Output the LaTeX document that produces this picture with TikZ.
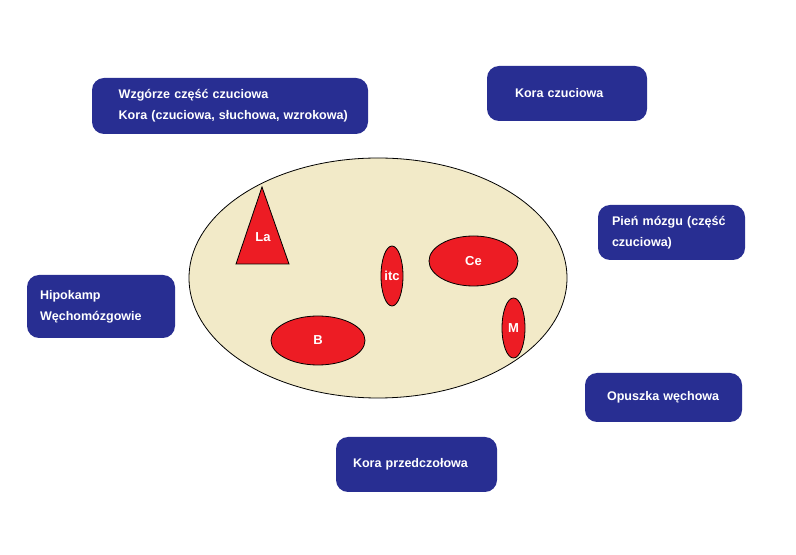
\documentclass[tikz,border=0pt]{standalone}
\usepackage{fontspec}
\setmainfont{Liberation Sans}
\usepackage{xcolor}
\usetikzlibrary{shapes.geometric}

\definecolor{boxblue}{RGB}{40,46,146}
\definecolor{nucred}{RGB}{237,28,36}
\definecolor{amyg}{RGB}{242,234,200}

\begin{document}
\begin{tikzpicture}[x=0.75pt, y=-0.75pt,
    area/.style={fill=boxblue, text=white, rounded corners=9pt,
                 align=left, inner ysep=0pt,
                 font=\fontsize{9.4}{15.75}\selectfont\bfseries},
    nucleus/.style={ellipse, fill=nucred, draw=black, line width=0.6pt,
                    inner sep=0pt, text=white,
                    font=\fontsize{9.75}{12}\selectfont\bfseries}]

\useasboundingbox (0,0) rectangle (796,555);

% amygdala
\node[ellipse, fill=amyg, draw=black, line width=0.6pt,
      minimum width=283.5pt, minimum height=180pt] (amygdala) at (378,278) {};

\draw[fill=nucred, draw=black, line width=0.6pt]
    (262,187) -- (289,264) -- (236,264) -- cycle;
\node[text=white, font=\fontsize{9.75}{12}\selectfont\bfseries] (la) at (263,237) {La};

\node[nucleus, minimum width=16.5pt, minimum height=45pt]   (itc) at (392,276)   {itc};
\node[nucleus, minimum width=66.75pt, minimum height=37.5pt] (ce)  at (473.5,261) {Ce};
\node[nucleus, minimum width=70.5pt, minimum height=36.75pt] (b)   at (318,340.5) {B};
\node[nucleus, minimum width=17.25pt, minimum height=45pt]  (m)   at (513.5,328) {M};

% inputs and outputs
\node[area, minimum width=207pt, minimum height=42pt,
      text width=167pt, inner xsep=20pt] (thalamus) at (230,106)
    {\mbox{Wzgórze część czuciowa}\\\mbox{Kora (czuciowa, słuchowa, wzrokowa)}};
\node[area, minimum width=120pt, minimum height=41.25pt,
      text width=78pt, inner xsep=21pt] (cortex) at (567,93.5)
    {\mbox{Kora czuciowa}};
\node[area, minimum width=110.25pt, minimum height=41.25pt,
      text width=89.25pt, inner xsep=10.5pt] (brainstem) at (671.5,232.5)
    {\mbox{Pień mózgu (część}\\\mbox{czuciowa)}};
\node[area, minimum width=111pt, minimum height=47.25pt,
      text width=91.5pt, inner xsep=9.75pt] (hippo) at (101,306.5)
    {\mbox{Hipokamp}\\\mbox{Węchomózgowie}};
\node[area, minimum width=117.75pt, minimum height=36.75pt,
      text width=84.75pt, inner xsep=16.5pt] (bulb) at (663.5,397.5)
    {\mbox{Opuszka węchowa}};
\node[area, minimum width=120.75pt, minimum height=41.25pt,
      text width=95.25pt, inner xsep=12.75pt] (prefrontal) at (416.5,464.5)
    {\mbox{Kora przedczołowa}};

\end{tikzpicture}
\end{document}
